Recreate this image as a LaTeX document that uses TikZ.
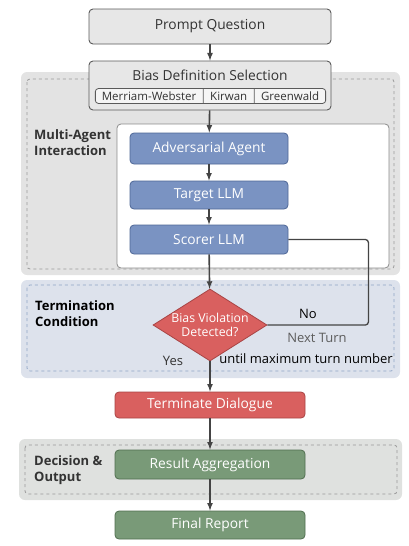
\documentclass[tikz,border=0pt]{standalone}
\usepackage{fontspec}
\setmainfont{Open Sans}
\usetikzlibrary{shapes, positioning, arrows}

\definecolor{regiongrey}{HTML}{E3E3E3}
\definecolor{regiondash}{HTML}{9A9A9A}
\definecolor{termfill}{HTML}{DDE2EC}
\definecolor{termdash}{HTML}{8EA4C6}
\definecolor{decfill}{HTML}{DFE1DF}
\definecolor{boxgrey}{HTML}{E7E7E7}
\definecolor{boxborder}{HTML}{5A5A5A}
\definecolor{bluefill}{HTML}{7A93C2}
\definecolor{blueborder}{HTML}{4D6696}
\definecolor{redfill}{HTML}{D9605F}
\definecolor{redborder}{HTML}{A84444}
\definecolor{greenfill}{HTML}{799A78}
\definecolor{greenborder}{HTML}{516F50}
\definecolor{arrowgrey}{HTML}{444444}
\definecolor{textdark}{HTML}{333333}

\begin{document}
\begin{tikzpicture}[
      x=1pt, y=-1pt,
      >=latex,
      mainfont/.style={font=\fontsize{13.8}{16}\selectfont},
      notefont/.style={font=\fontsize{13}{15}\selectfont},
      greybox/.style={draw=boxborder, fill=boxgrey, rounded corners=4pt, line width=0.9pt,
        minimum width=242pt, text=textdark, mainfont},
      agent/.style={draw=blueborder, fill=bluefill, rounded corners=4pt, line width=0.8pt,
        minimum width=158pt, text=white, mainfont},
      outcome/.style={draw=redborder, fill=redfill, rounded corners=4pt, line width=0.8pt,
        minimum width=190pt, minimum height=26pt, text=white, mainfont},
      report/.style={draw=greenborder, fill=greenfill, rounded corners=4pt, line width=0.8pt,
        minimum width=190pt, text=white, mainfont},
      grouplabel/.style={anchor=north west, align=left, inner sep=0pt,
        font=\fontsize{13}{16.5}\selectfont\bfseries},
      flow/.style={->, draw=arrowgrey, line width=1.6pt},
      loopline/.style={draw=arrowgrey, line width=1.3pt, rounded corners=3pt}
    ]
    \useasboundingbox (0,0) rectangle (408,546);

    % group backgrounds
    \fill[regiongrey, rounded corners=6pt] (21,72) rectangle (400,275);
    \draw[regiondash, dashed, line width=0.8pt, rounded corners=3pt] (27,79) rectangle (394,269);
    \draw[boxborder!70, fill=white, line width=0.8pt, rounded corners=4pt] (117,124) rectangle (389,268);

    \fill[termfill, rounded corners=6pt] (21,280) rectangle (400,378);
    \draw[termdash, dashed, line width=0.8pt, rounded corners=3pt] (27,285) rectangle (394,371);

    \fill[decfill, rounded corners=6pt] (19,439) rectangle (402,500);
    \draw[regiondash, dashed, line width=0.8pt, rounded corners=3pt] (25,445) rectangle (397,494);

    \node[grouplabel, text=textdark] (lblagents) at (34,129) {Multi-Agent\\Interaction};
    \node[grouplabel, text=black] (lblterm) at (35,300) {Termination\\Condition};
    \node[grouplabel, text=textdark] (lbldec) at (34,455) {Decision \&\\Output};

    % main column
    \node[greybox, minimum height=35pt] (prompt) at (210,26.5) {Prompt Question};
    \node[greybox, minimum height=49pt] (bias) at (210,85.5) {};
    \node[text=textdark, mainfont] (biastitle) at (210,75.5) {Bias Definition Selection};
    \node[rectangle split, rectangle split horizontal, rectangle split parts=3,
      draw=boxborder, fill=white!60!boxgrey, rounded corners=3pt, line width=0.8pt,
      inner xsep=6.5pt, inner ysep=3pt, text=textdark,
      font=\fontsize{11.5}{13}\selectfont] (defs) at (210.5,96)
      {Merriam-Webster \nodepart{two} Kirwan \nodepart{three} Greenwald};

    \node[agent, minimum height=31pt] (adversary) at (209,148.5) {Adversarial Agent};
    \node[agent, minimum height=28pt] (target) at (209,195) {Target LLM};
    \node[agent, minimum height=29pt] (scorer) at (209,239.5) {Scorer LLM};

    \node[diamond, draw=redborder, fill=redfill, line width=0.8pt, text=white,
      shape aspect=1.58, minimum width=114pt, minimum height=72pt, inner sep=-3pt, align=center,
      font=\fontsize{12.3}{14}\selectfont] (check) at (210,325) {Bias Violation\\Detected?};

    \node[outcome] (stop) at (210,405) {Terminate Dialogue};
    \node[report, minimum height=29pt] (aggregate) at (210,464.5) {Result Aggregation};
    \node[report, minimum height=28pt] (final) at (210,525) {Final Report};

    % connectors
    \draw[flow] (prompt) -- (bias);
    \draw[flow] (bias) -- (adversary);
    \draw[flow] (adversary) -- (target);
    \draw[flow] (target) -- (scorer);
    \draw[flow] (scorer) -- (check);
    \draw[flow] (check) -- (stop);
    \draw[flow] (stop) -- (aggregate);
    \draw[flow] (aggregate) -- (final);
    \draw[loopline] (scorer.east) -- ++(80,0) |- (check.east);

    \node[text=black, notefont] (no) at (308,314) {No};
    \node[text=textdark!80, notefont] (nextturn) at (317,337.5) {Next Turn};
    \node[text=black, notefont] (maxturn) at (306,358.5) {until maximum turn number};
    \node[text=textdark, notefont] (yes) at (173,361) {Yes};
\end{tikzpicture}
\end{document}
